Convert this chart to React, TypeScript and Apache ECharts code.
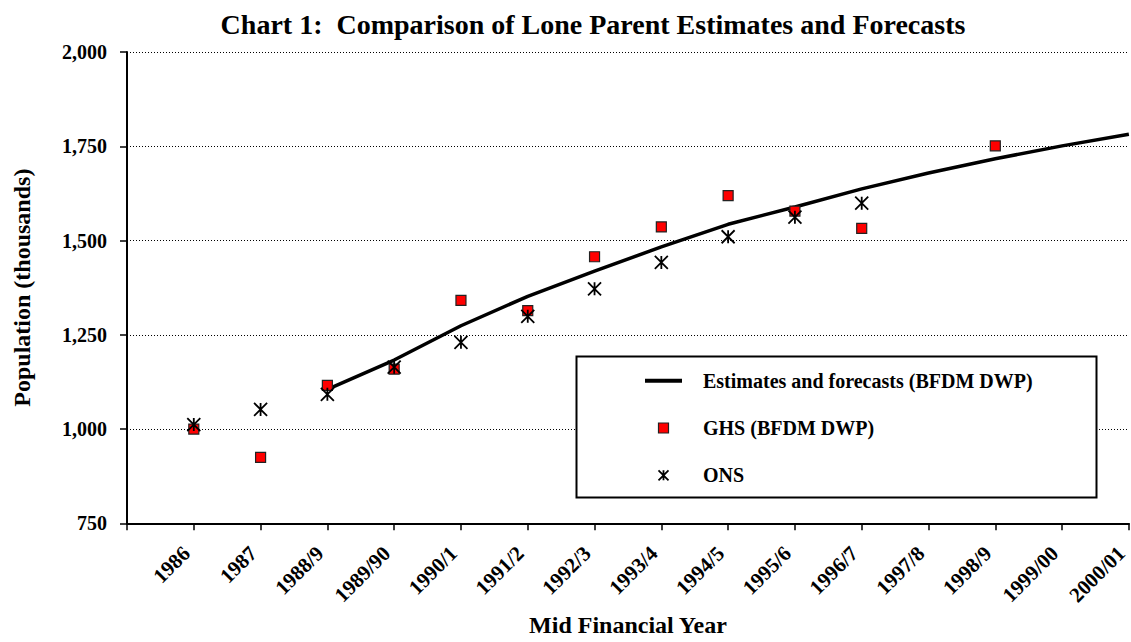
import React, { useEffect, useRef } from "react";
import * as echarts from "echarts";

const categories = [
  "1986", "1987", "1988/9", "1989/90", "1990/1", "1991/2", "1992/3", "1993/4",
  "1994/5", "1995/6", "1996/7", "1997/8", "1998/9", "1999/00", "2000/01",
];
const estimates: (number | null)[] = [
  null, null, 1105, 1183, 1274, 1352, 1419, 1483, 1543, 1589, 1637, 1679, 1717, 1751, 1782,
];
const ghs: (number | null)[] = [
  1000, 925, 1116, 1159, 1341, 1314, 1457, 1536, 1619, 1578, 1532, null, 1751, null, null,
];
const ons: (number | null)[] = [
  1012, 1052, 1092, 1164, 1230, 1299, 1372, 1442, 1510, 1562, 1599, null, null, null, null,
];
const yTicks = { min: 750, max: 2000, step: 250 };

const FONT = "'Liberation Serif', 'Times New Roman', serif";
const STAR = "path://M0,0L10,10M10,0L0,10M5,0L5,10";

const toPairs = (arr: (number | null)[]) =>
  arr.map((v, i) => (v == null ? null : [i + 1, v])).filter((p) => p !== null);

export default function App() {
  const ref = useRef<HTMLDivElement>(null);
  useEffect(() => {
    if (!ref.current) return;
    const chart = echarts.init(ref.current, null, { renderer: "svg" });
    chart.setOption({
      animation: false,
      backgroundColor: "#fff",
      title: {
        text: "Chart 1:  Comparison of Lone Parent Estimates and Forecasts",
        left: 588,
        textAlign: "center",
        top: 5,
        textStyle: { fontFamily: FONT, fontWeight: "bold", fontSize: 28, color: "#000" },
      },
      grid: { left: 127, top: 52, width: 1010, height: 475, containLabel: false },
      xAxis: {
        type: "value",
        min: 0,
        max: 15,
        interval: 1,
        name: "Mid Financial Year",
        nameLocation: "middle",
        nameGap: 88,
        nameTextStyle: { fontFamily: FONT, fontWeight: "bold", fontSize: 24, color: "#000" },
        axisLine: { show: true, lineStyle: { color: "#000", width: 2 } },
        axisTick: { show: true, inside: false, length: 7, lineStyle: { color: "#000", width: 1.5 } },
        splitLine: { show: false },
        axisLabel: {
          rotate: 45,
          margin: 34,
          verticalAlign: "bottom",
          fontFamily: FONT,
          fontWeight: "bold",
          fontSize: 21,
          color: "#000",
          formatter: (v: number) => categories[v - 1] ?? "",
        },
      },
      yAxis: {
        type: "value",
        min: yTicks.min,
        max: yTicks.max,
        interval: yTicks.step,
        name: "Population (thousands)",
        nameLocation: "middle",
        nameGap: 93,
        nameTextStyle: { fontFamily: FONT, fontWeight: "bold", fontSize: 24, color: "#000" },
        axisLine: { show: true, lineStyle: { color: "#000", width: 2 } },
        axisTick: { show: true, inside: false, length: 7, lineStyle: { color: "#000", width: 1.5 } },
        splitLine: { show: true, lineStyle: { color: "#000", width: 1, type: [1, 2] } },
        axisLabel: {
          margin: 20,
          fontFamily: FONT,
          fontWeight: "bold",
          fontSize: 20,
          color: "#000",
          formatter: (v: number) => v.toLocaleString("en-US"),
        },
      },
      graphic: [
        {
          type: "rect",
          z: 3,
          shape: { x: 576.5, y: 356.5, width: 520, height: 141 },
          style: { fill: "#fff", stroke: "#000", lineWidth: 2 },
        },
      ],
      legend: {
        orient: "vertical",
        left: 640,
        top: 365.7,
        itemWidth: 37,
        itemHeight: 10,
        itemGap: 27.3,
        z: 5,
        textStyle: {
          fontFamily: FONT,
          fontWeight: "bold",
          fontSize: 20,
          lineHeight: 20,
          color: "#000",
          padding: [0, 0, 0, 16],
        },
        data: [
          {
            name: "Estimates and forecasts (BFDM DWP)",
            icon: "path://M0,0H37V4H0Z",
            itemStyle: { color: "#000", borderWidth: 0 },
          },
          {
            name: "GHS (BFDM DWP)",
            icon: "path://M0,0H10V10H0Z",
            itemStyle: { color: "#ff0000", borderColor: "#222", borderWidth: 1.2 },
          },
          {
            name: "ONS",
            icon: STAR,
            itemStyle: { color: "transparent", borderColor: "#000", borderWidth: 1.8 },
          },
        ],
      },
      series: [
        {
          name: "Estimates and forecasts (BFDM DWP)",
          type: "line",
          data: toPairs(estimates),
          symbol: "none",
          showSymbol: false,
          smooth: false,
          z: 2,
          lineStyle: { color: "#000", width: 3.5 },
          itemStyle: { color: "#000" },
        },
        {
          name: "GHS (BFDM DWP)",
          type: "scatter",
          data: toPairs(ghs),
          symbol: "rect",
          symbolSize: 10,
          z: 3,
          itemStyle: { color: "#ff0000", borderColor: "#222", borderWidth: 1.2, opacity: 1 },
        },
        {
          name: "ONS",
          type: "scatter",
          data: toPairs(ons),
          symbol: STAR,
          symbolSize: 13,
          z: 4,
          itemStyle: { color: "transparent", borderColor: "#000", borderWidth: 1.8, opacity: 1 },
        },
      ],
    });
    return () => chart.dispose();
  }, []);
  return (
    <div
      ref={ref}
      style={{ position: "absolute", left: 0, top: 0, width: 1131, height: 642, background: "#fff" }}
    />
  );
}
